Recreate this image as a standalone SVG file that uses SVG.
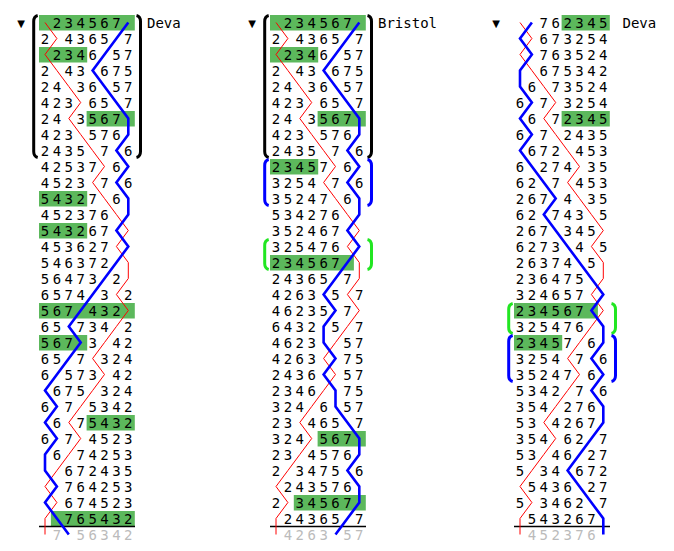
<svg xmlns="http://www.w3.org/2000/svg" width="674" height="551" viewBox="0 0 674 551">
<style>
text{font-family:"DejaVu Sans Mono",monospace;font-size:14px;fill:#000}
.rows text{text-anchor:middle}
.rows text.g{fill:#bbb}
.hl{fill:#5cb85c}
.tri{font-family:"DejaVu Sans",sans-serif;font-size:10px;text-anchor:middle}
.treble{fill:none;stroke:#f00;stroke-width:1}
.tenor{fill:none;stroke:#00f;stroke-width:2.6}
.br{fill:none;stroke:#000;stroke-width:3}
.br.bb{stroke:#00f}
.br.bg{stroke:#22e622}
.rule{stroke:#000;stroke-width:1.3}
</style>
<defs>
<polyline id="treblePath" class="treble" points="0,22.5 11.9,38.5 0,54.5 11.9,70.5 23.8,86.5 35.7,102.5 23.8,118.5 35.7,134.5 47.6,150.5 59.5,166.5 47.6,182.5 59.5,198.5 71.4,214.5 83.3,230.5 71.4,246.5 83.3,262.5 83.3,278.5 71.4,294.5 83.3,310.5 71.4,326.5 59.5,342.5 47.6,358.5 59.5,374.5 47.6,390.5 35.7,406.5 23.8,422.5 35.7,438.5 23.8,454.5 11.9,470.5 0,486.5 11.9,502.5 0,518.5 0,534.5"/>
</defs>
<rect width="674" height="551" fill="#fff"/>

<g id="deva1" transform="translate(45,0)">
<g class="hls">
<rect class="hl" x="-6" y="15" width="95.8" height="15.5"/>
<rect class="hl" x="-6" y="47" width="48.2" height="15.5"/>
<rect class="hl" x="41.6" y="111" width="48.2" height="15.5"/>
<rect class="hl" x="-6" y="191" width="48.2" height="15.5"/>
<rect class="hl" x="-6" y="223" width="48.2" height="15.5"/>
<rect class="hl" x="-6" y="303" width="95.8" height="15.5"/>
<rect class="hl" x="-6" y="335" width="48.2" height="15.5"/>
<rect class="hl" x="41.6" y="415" width="48.2" height="15.5"/>
<rect class="hl" x="5.9" y="511" width="83.9" height="15.5"/>
</g>
<text class="tri" x="-24" y="27">▼</text>
<text x="102" y="27.5">Deva</text>
<path class="br" d="M-7.3,15.5 q-4,1 -4,6 V151.5 q0,5 4,6"/>
<path class="br" d="M91.5,15.5 q4,1 4,6 V151.5 q0,5 -4,6"/>
<line class="rule" x1="-6" y1="526.5" x2="90" y2="526.5"/>
<g class="rows">
<text x="11.9 23.8 35.7 47.6 59.5 71.4" y="27.5">234567</text>
<text x="0 23.8 35.7 47.6 59.5 83.3" y="43.5">243657</text>
<text x="11.9 23.8 35.7 47.6 71.4 83.3" y="59.5">234657</text>
<text x="0 23.8 35.7 59.5 71.4 83.3" y="75.5">243675</text>
<text x="0 11.9 35.7 47.6 71.4 83.3" y="91.5">243657</text>
<text x="0 11.9 23.8 47.6 59.5 83.3" y="107.5">423657</text>
<text x="0 11.9 35.7 47.6 59.5 71.4" y="123.5">243567</text>
<text x="0 11.9 23.8 47.6 59.5 71.4" y="139.5">423576</text>
<text x="0 11.9 23.8 35.7 59.5 83.3" y="155.5">243576</text>
<text x="0 11.9 23.8 35.7 47.6 71.4" y="171.5">425376</text>
<text x="0 11.9 23.8 35.7 59.5 83.3" y="187.5">452376</text>
<text x="0 11.9 23.8 35.7 47.6 71.4" y="203.5">543276</text>
<text x="0 11.9 23.8 35.7 47.6 59.5" y="219.5">452376</text>
<text x="0 11.9 23.8 35.7 47.6 59.5" y="235.5">543267</text>
<text x="0 11.9 23.8 35.7 47.6 59.5" y="251.5">453627</text>
<text x="0 11.9 23.8 35.7 47.6 59.5" y="267.5">546372</text>
<text x="0 11.9 23.8 35.7 47.6 71.4" y="283.5">564732</text>
<text x="0 11.9 23.8 35.7 59.5 83.3" y="299.5">657432</text>
<text x="0 11.9 23.8 47.6 59.5 71.4" y="315.5">567432</text>
<text x="0 11.9 35.7 47.6 59.5 83.3" y="331.5">657342</text>
<text x="0 11.9 23.8 47.6 71.4 83.3" y="347.5">567342</text>
<text x="0 11.9 35.7 59.5 71.4 83.3" y="363.5">657324</text>
<text x="0 23.8 35.7 47.6 71.4 83.3" y="379.5">657342</text>
<text x="11.9 23.8 35.7 59.5 71.4 83.3" y="395.5">675324</text>
<text x="0 23.8 47.6 59.5 71.4 83.3" y="411.5">675342</text>
<text x="11.9 35.7 47.6 59.5 71.4 83.3" y="427.5">675432</text>
<text x="0 23.8 47.6 59.5 71.4 83.3" y="443.5">674523</text>
<text x="11.9 35.7 47.6 59.5 71.4 83.3" y="459.5">674253</text>
<text x="23.8 35.7 47.6 59.5 71.4 83.3" y="475.5">672435</text>
<text x="23.8 35.7 47.6 59.5 71.4 83.3" y="491.5">764253</text>
<text x="23.8 35.7 47.6 59.5 71.4 83.3" y="507.5">674523</text>
<text x="23.8 35.7 47.6 59.5 71.4 83.3" y="523.5">765432</text>
<text class="g" x="11.9 35.7 47.6 59.5 71.4 83.3" y="539.5">756342</text>
</g>
</g>

<g id="bristol" transform="translate(276,0)">
<g class="hls">
<rect class="hl" x="-6" y="15" width="95.8" height="15.5"/>
<rect class="hl" x="-6" y="47" width="48.2" height="15.5"/>
<rect class="hl" x="41.6" y="111" width="48.2" height="15.5"/>
<rect class="hl" x="-6" y="159" width="48.2" height="15.5"/>
<rect class="hl" x="-6" y="255" width="83.9" height="15.5"/>
<rect class="hl" x="41.6" y="431" width="48.2" height="15.5"/>
<rect class="hl" x="17.8" y="495" width="72" height="15.5"/>
</g>
<text class="tri" x="-24" y="27">▼</text>
<text x="102" y="27.5">Bristol</text>
<path class="br" d="M-7.3,15.5 q-4,1 -4,6 V151.5 q0,5 4,6"/>
<path class="br" d="M91.5,15.5 q4,1 4,6 V151.5 q0,5 -4,6"/>
<path class="br bb" d="M-7.3,159.5 q-4,1 -4,6 V199.5 q0,5 4,6"/>
<path class="br bb" d="M91.5,159.5 q4,1 4,6 V199.5 q0,5 -4,6"/>
<path class="br bg" d="M-7.3,239.5 q-4,1 -4,6 V263.5 q0,5 4,6"/>
<path class="br bg" d="M91.5,239.5 q4,1 4,6 V263.5 q0,5 -4,6"/>
<line class="rule" x1="-6" y1="526.5" x2="90" y2="526.5"/>
<g class="rows">
<text x="11.9 23.8 35.7 47.6 59.5 71.4" y="27.5">234567</text>
<text x="0 23.8 35.7 47.6 59.5 83.3" y="43.5">243657</text>
<text x="11.9 23.8 35.7 47.6 71.4 83.3" y="59.5">234657</text>
<text x="0 23.8 35.7 59.5 71.4 83.3" y="75.5">243675</text>
<text x="0 11.9 35.7 47.6 71.4 83.3" y="91.5">243657</text>
<text x="0 11.9 23.8 47.6 59.5 83.3" y="107.5">423657</text>
<text x="0 11.9 35.7 47.6 59.5 71.4" y="123.5">243567</text>
<text x="0 11.9 23.8 47.6 59.5 71.4" y="139.5">423576</text>
<text x="0 11.9 23.8 35.7 59.5 83.3" y="155.5">243576</text>
<text x="0 11.9 23.8 35.7 47.6 71.4" y="171.5">234576</text>
<text x="0 11.9 23.8 35.7 59.5 83.3" y="187.5">325476</text>
<text x="0 11.9 23.8 35.7 47.6 71.4" y="203.5">352476</text>
<text x="0 11.9 23.8 35.7 47.6 59.5" y="219.5">534276</text>
<text x="0 11.9 23.8 35.7 47.6 59.5" y="235.5">352467</text>
<text x="0 11.9 23.8 35.7 47.6 59.5" y="251.5">325476</text>
<text x="0 11.9 23.8 35.7 47.6 59.5" y="267.5">234567</text>
<text x="0 11.9 23.8 35.7 47.6 71.4" y="283.5">243657</text>
<text x="0 11.9 23.8 35.7 59.5 83.3" y="299.5">426357</text>
<text x="0 11.9 23.8 35.7 47.6 71.4" y="315.5">462357</text>
<text x="0 11.9 23.8 35.7 59.5 83.3" y="331.5">643257</text>
<text x="0 11.9 23.8 35.7 71.4 83.3" y="347.5">462357</text>
<text x="0 11.9 23.8 35.7 71.4 83.3" y="363.5">426375</text>
<text x="0 11.9 23.8 35.7 71.4 83.3" y="379.5">243657</text>
<text x="0 11.9 23.8 35.7 71.4 83.3" y="395.5">234675</text>
<text x="0 11.9 23.8 47.6 71.4 83.3" y="411.5">324657</text>
<text x="0 11.9 35.7 47.6 59.5 83.3" y="427.5">234657</text>
<text x="0 11.9 23.8 47.6 59.5 71.4" y="443.5">324567</text>
<text x="0 11.9 35.7 47.6 59.5 71.4" y="459.5">234576</text>
<text x="0 23.8 35.7 47.6 59.5 83.3" y="475.5">234756</text>
<text x="11.9 23.8 35.7 47.6 59.5 71.4" y="491.5">243576</text>
<text x="0 23.8 35.7 47.6 59.5 71.4" y="507.5">234567</text>
<text x="11.9 23.8 35.7 47.6 59.5 83.3" y="523.5">243657</text>
<text class="g" x="11.9 23.8 35.7 47.6 71.4 83.3" y="539.5">426357</text>
</g>
</g>

<g id="deva2" transform="translate(520,0)">
<g class="hls">
<rect class="hl" x="41.6" y="15" width="48.2" height="15.5"/>
<rect class="hl" x="41.6" y="111" width="48.2" height="15.5"/>
<rect class="hl" x="-6" y="303" width="83.9" height="15.5"/>
<rect class="hl" x="-6" y="335" width="48.2" height="15.5"/>
</g>
<text class="tri" x="-24" y="27">▼</text>
<text x="102.5" y="27.5">Deva</text>
<path class="br bg" d="M-7.3,303.5 q-4,1 -4,6 V327.5 q0,5 4,6"/>
<path class="br bg" d="M91.5,303.5 q4,1 4,6 V327.5 q0,5 -4,6"/>
<path class="br bb" d="M-7.3,335.5 q-4,1 -4,6 V375.5 q0,5 4,6"/>
<path class="br bb" d="M91.5,335.5 q4,1 4,6 V375.5 q0,5 -4,6"/>
<line class="rule" x1="-6" y1="526.5" x2="90" y2="526.5"/>
<g class="rows">
<text x="23.8 35.7 47.6 59.5 71.4 83.3" y="27.5">762345</text>
<text x="23.8 35.7 47.6 59.5 71.4 83.3" y="43.5">673254</text>
<text x="23.8 35.7 47.6 59.5 71.4 83.3" y="59.5">763524</text>
<text x="23.8 35.7 47.6 59.5 71.4 83.3" y="75.5">675342</text>
<text x="11.9 35.7 47.6 59.5 71.4 83.3" y="91.5">673524</text>
<text x="0 23.8 47.6 59.5 71.4 83.3" y="107.5">673254</text>
<text x="11.9 35.7 47.6 59.5 71.4 83.3" y="123.5">672345</text>
<text x="0 23.8 47.6 59.5 71.4 83.3" y="139.5">672435</text>
<text x="11.9 23.8 35.7 59.5 71.4 83.3" y="155.5">672453</text>
<text x="0 23.8 35.7 47.6 71.4 83.3" y="171.5">627435</text>
<text x="0 11.9 35.7 59.5 71.4 83.3" y="187.5">627453</text>
<text x="0 11.9 23.8 47.6 71.4 83.3" y="203.5">267435</text>
<text x="0 11.9 35.7 47.6 59.5 83.3" y="219.5">627435</text>
<text x="0 11.9 23.8 47.6 59.5 71.4" y="235.5">267345</text>
<text x="0 11.9 23.8 35.7 59.5 83.3" y="251.5">627345</text>
<text x="0 11.9 23.8 35.7 47.6 71.4" y="267.5">263745</text>
<text x="0 11.9 23.8 35.7 47.6 59.5" y="283.5">236475</text>
<text x="0 11.9 23.8 35.7 47.6 59.5" y="299.5">324657</text>
<text x="0 11.9 23.8 35.7 47.6 59.5" y="315.5">234567</text>
<text x="0 11.9 23.8 35.7 47.6 59.5" y="331.5">325476</text>
<text x="0 11.9 23.8 35.7 47.6 71.4" y="347.5">234576</text>
<text x="0 11.9 23.8 35.7 59.5 83.3" y="363.5">325476</text>
<text x="0 11.9 23.8 35.7 47.6 71.4" y="379.5">352476</text>
<text x="0 11.9 23.8 35.7 59.5 83.3" y="395.5">534276</text>
<text x="0 11.9 23.8 47.6 59.5 71.4" y="411.5">354276</text>
<text x="0 11.9 35.7 47.6 59.5 71.4" y="427.5">534267</text>
<text x="0 11.9 23.8 47.6 59.5 83.3" y="443.5">354627</text>
<text x="0 11.9 35.7 47.6 71.4 83.3" y="459.5">534627</text>
<text x="0 23.8 35.7 59.5 71.4 83.3" y="475.5">534672</text>
<text x="11.9 23.8 35.7 47.6 71.4 83.3" y="491.5">543627</text>
<text x="0 23.8 35.7 47.6 59.5 83.3" y="507.5">534627</text>
<text x="11.9 23.8 35.7 47.6 59.5 71.4" y="523.5">543267</text>
<text class="g" x="11.9 23.8 35.7 47.6 59.5 71.4" y="539.5">452376</text>
</g>
</g>

<g id="connectors">
<use href="#treblePath" x="45"/>
<use href="#treblePath" x="276"/>
<use href="#treblePath" x="520"/>
<polyline class="tenor" transform="translate(45,0)" points="83.3,22.5 71.4,38.5 59.5,54.5 47.6,70.5 59.5,86.5 71.4,102.5 83.3,118.5 83.3,134.5 71.4,150.5 83.3,166.5 71.4,182.5 83.3,198.5 83.3,214.5 71.4,230.5 83.3,246.5 71.4,262.5 59.5,278.5 47.6,294.5 35.7,310.5 23.8,326.5 35.7,342.5 23.8,358.5 11.9,374.5 0,390.5 11.9,406.5 0,422.5 11.9,438.5 0,454.5 0,470.5 11.9,486.5 0,502.5 11.9,518.5 23.8,534.5"/>
<polyline class="tenor" transform="translate(276,0)" points="83.3,22.5 71.4,38.5 59.5,54.5 47.6,70.5 59.5,86.5 71.4,102.5 83.3,118.5 83.3,134.5 71.4,150.5 83.3,166.5 71.4,182.5 83.3,198.5 83.3,214.5 71.4,230.5 83.3,246.5 71.4,262.5 59.5,278.5 47.6,294.5 59.5,310.5 47.6,326.5 47.6,342.5 59.5,358.5 47.6,374.5 59.5,390.5 59.5,406.5 71.4,422.5 83.3,438.5 83.3,454.5 71.4,470.5 83.3,486.5 83.3,502.5 71.4,518.5 59.5,534.5"/>
<polyline class="tenor" transform="translate(520,0)" points="11.9,22.5 0,38.5 11.9,54.5 0,70.5 0,86.5 11.9,102.5 0,118.5 11.9,134.5 0,150.5 11.9,166.5 23.8,182.5 35.7,198.5 23.8,214.5 35.7,230.5 47.6,246.5 59.5,262.5 71.4,278.5 83.3,294.5 71.4,310.5 83.3,326.5 83.3,342.5 71.4,358.5 83.3,374.5 71.4,390.5 83.3,406.5 83.3,422.5 71.4,438.5 59.5,454.5 47.6,470.5 59.5,486.5 71.4,502.5 83.3,518.5 83.3,534.5"/>
</g>
</svg>
